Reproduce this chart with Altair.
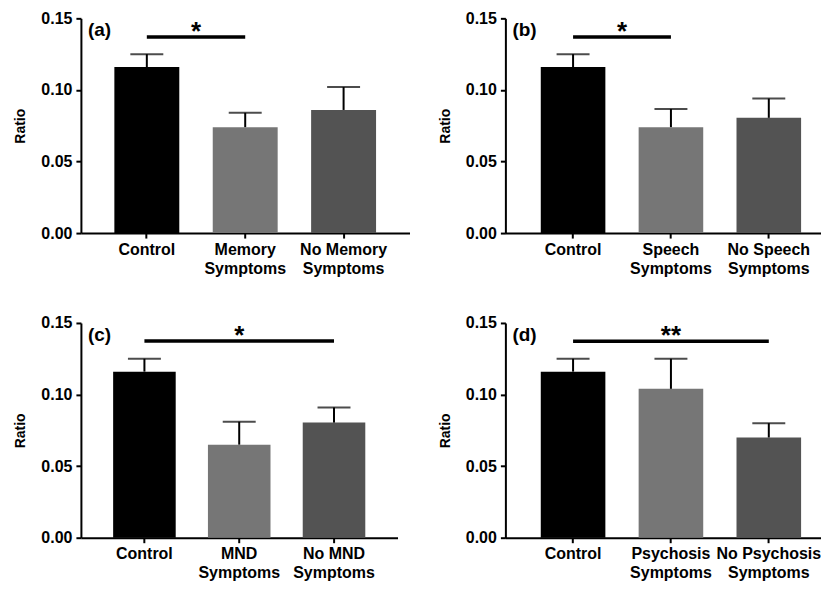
import altair as alt
import pandas as pd

FONT = "Liberation Sans"
PAD_INNER = 0.34
COLORS = ["#000000", "#767676", "#535353"]

# (a)
cats_a = ["Control", "Memory|Symptoms", "No Memory|Symptoms"]
mean_a = [0.116, 0.074, 0.086]
upper_a = [0.125, 0.084, 0.102]
# (b)
cats_b = ["Control", "Speech|Symptoms", "No Speech|Symptoms"]
mean_b = [0.116, 0.074, 0.0805]
upper_b = [0.125, 0.0867, 0.094]
# (c)
cats_c = ["Control", "MND|Symptoms", "No MND|Symptoms"]
mean_c = [0.116, 0.065, 0.0804]
upper_c = [0.125, 0.081, 0.091]
# (d)
cats_d = ["Control", "Psychosis|Symptoms", "No Psychosis|Symptoms"]
mean_d = [0.116, 0.104, 0.070]
upper_d = [0.125, 0.125, 0.080]

# significance annotations: (to-category index, stars, height)
sig_a = (1, "*", 0.137)
sig_b = (1, "*", 0.137)
sig_c = (2, "*", 0.1374)
sig_d = (2, "**", 0.1373)

Y_TICKS = [0.0, 0.05, 0.10, 0.15]
PANEL_H = 215


def panel(cats, means, uppers, sig, tag, width, pad_outer, align):
    df = pd.DataFrame({"cat": cats, "mean": means, "upper": uppers, "color": COLORS})
    to_idx, stars, sig_y = sig
    df_sig = pd.DataFrame({"cat": [cats[0]], "cat2": [cats[to_idx]], "y": [sig_y], "stars": [stars]})
    df_tag = pd.DataFrame({"tag": [tag]})

    xscale = alt.Scale(domain=cats, paddingInner=PAD_INNER, paddingOuter=pad_outer, align=align)
    xaxis = alt.Axis(title=None, labelAngle=0, labelExpr="split(datum.label, '|')",
                     labelFontSize=16, labelLineHeight=19, labelPadding=3)
    yscale = alt.Scale(domain=[0, 0.15], nice=False)
    yaxis = alt.Axis(title="Ratio", values=Y_TICKS, format=".2f", labelFontSize=16,
                     labelPadding=4, titlePadding=13, titleFontSize=14)

    def X(field="cat", **kw):
        return alt.X(f"{field}:N", sort=cats, scale=xscale, axis=xaxis, title=None, **kw)

    def Y(field):
        return alt.Y(f"{field}:Q", scale=yscale, axis=yaxis, title="Ratio")

    bars = alt.Chart(df).mark_bar().encode(
        x=X(), y=Y("mean"), color=alt.Color("color:N", scale=None))
    stem = alt.Chart(df).mark_rule(color="black", strokeWidth=2).encode(
        x=X(), y=Y("mean"), y2=alt.Y2("upper"))
    cap = alt.Chart(df).mark_tick(color="black", thickness=2, size=33).encode(
        x=X(), y=Y("upper"))
    sig_rule = alt.Chart(df_sig).mark_rule(color="black", strokeWidth=3.5).encode(
        x=X(), x2=alt.X2("cat2"), y=Y("y"))

    # star sits at the midpoint of the two compared bars
    step = width / (len(cats) - PAD_INNER + 2 * pad_outer)
    df_star = df_sig.assign(cat=[cats[to_idx // 2]])
    if to_idx % 2 == 0:
        sx, sdx = X(bandPosition=0.5), 0
    else:
        sx, sdx = X(bandPosition=1), PAD_INNER * step / 2
    star = alt.Chart(df_star).mark_text(fontSize=26, fontWeight="bold", baseline="alphabetic",
                                        dy=3, dx=sdx, color="black").encode(
        x=sx, y=Y("y"), text="stars:N")
    label = alt.Chart(df_tag).mark_text(align="left", baseline="top", fontSize=19,
                                        fontWeight="bold", color="black").encode(
        x=alt.value(7), y=alt.value(3), text="tag:N")
    return alt.layer(bars, stem, cap, sig_rule, star, label).properties(width=width, height=PANEL_H)


pa = panel(cats_a, mean_a, upper_a, sig_a, "(a)", 329, 0.34, 0.5)
pb = panel(cats_b, mean_b, upper_b, sig_b, "(b)", 316, 0.2825, 0.64)
pc = panel(cats_c, mean_c, upper_c, sig_c, "(c)", 317, 0.34, 0.5)
pd_ = panel(cats_d, mean_d, upper_d, sig_d, "(d)", 316, 0.2825, 0.64)

chart = alt.vconcat(
    alt.hconcat(pa, pb, spacing=28),
    alt.hconcat(pc, pd_, spacing=40),
    spacing=39,
).properties(
    padding={"left": 5, "top": 2, "right": 0, "bottom": 2}
).configure_view(
    stroke=None
).configure_axis(
    domainColor="black", domainWidth=2, tickColor="black", tickWidth=2, tickSize=5,
    labelFont=FONT, labelFontWeight="bold", labelColor="black",
    titleFont=FONT, titleFontWeight="bold", titleColor="black", grid=False,
).configure_text(
    font=FONT
)

chart.save("out.html", embed_options={"renderer": "svg", "actions": False})
